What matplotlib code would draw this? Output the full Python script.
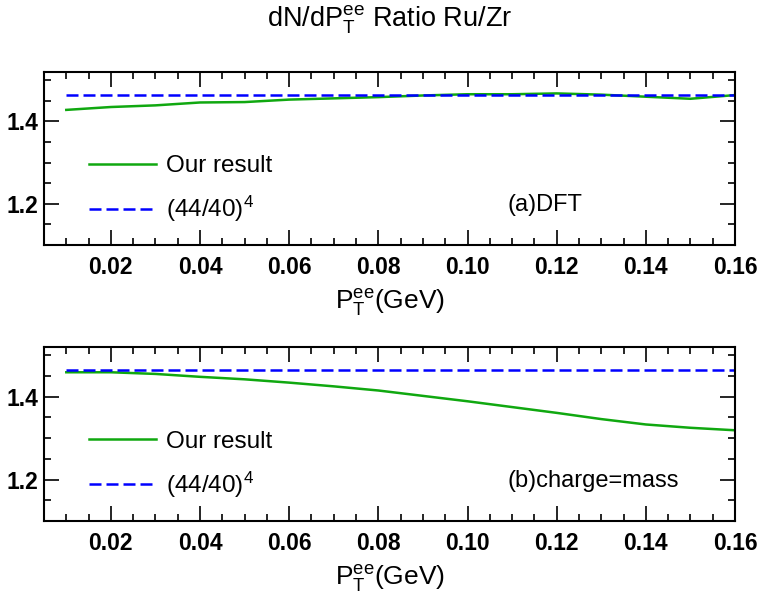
import matplotlib
matplotlib.use('Agg')
import matplotlib.pyplot as plt
from matplotlib.ticker import MultipleLocator
import numpy as np

plt.rcParams['font.family'] = ['Liberation Sans', 'DejaVu Sans']
plt.rcParams['mathtext.fontset'] = 'custom'
plt.rcParams['mathtext.rm'] = 'Liberation Sans'
plt.rcParams['mathtext.it'] = 'Liberation Sans:italic'
plt.rcParams['mathtext.bf'] = 'Liberation Sans:bold'

# pT of the pair (GeV)
pt = [0.01, 0.02, 0.03, 0.04, 0.05, 0.06, 0.07, 0.08,
      0.09, 0.10, 0.11, 0.12, 0.13, 0.14, 0.15, 0.16]
# ratio Ru/Zr, (a) DFT
ratio_dft = [1.428, 1.435, 1.439, 1.446, 1.447, 1.453, 1.456, 1.459,
             1.463, 1.466, 1.466, 1.468, 1.465, 1.460, 1.455, 1.464]
# ratio Ru/Zr, (b) charge = mass
ratio_cm = [1.459, 1.459, 1.455, 1.448, 1.442, 1.434, 1.425, 1.415,
            1.402, 1.389, 1.375, 1.361, 1.346, 1.333, 1.325, 1.319]
z_scaling = (44 / 40) ** 4
panel_labels = ['(a)DFT', '(b)charge=mass']

W, H = 759, 594
fig = plt.figure(figsize=(W / 100, H / 100), dpi=100)
ax1 = fig.add_axes([44 / W, 1 - 245 / H, 691 / W, 173 / H])
ax2 = fig.add_axes([44 / W, 1 - 521 / H, 691 / W, 174 / H])

for ax, ratio, lab in zip([ax1, ax2], [ratio_dft, ratio_cm], panel_labels):
    ax.plot(pt, ratio, color='#10a810', lw=1.8, label='Our result')
    ax.plot(pt, [z_scaling] * len(pt), color='#0000ff', lw=1.8,
            dashes=(4.8, 2.0), label=r'(44/40)$^4$')
    ax.set_xlim(0.005, 0.16)
    ax.set_ylim(1.1, 1.52)
    ax.xaxis.set_major_locator(MultipleLocator(0.02))
    ax.xaxis.set_minor_locator(MultipleLocator(0.005))
    ax.yaxis.set_major_locator(MultipleLocator(0.2))
    ax.yaxis.set_minor_locator(MultipleLocator(0.05))
    ax.tick_params(which='both', direction='in', top=True, right=True, width=1.2)
    ax.tick_params(which='major', length=10.5)
    ax.tick_params(which='minor', length=5)
    ax.tick_params(axis='x', pad=8)
    ax.tick_params(axis='y', pad=4)
    for t in ax.get_xticklabels() + ax.get_yticklabels():
        t.set_fontweight('bold')
        t.set_fontsize(16.5)
    for s in ax.spines.values():
        s.set_linewidth(1.5)
    ax.set_xlabel(r'P$_\mathrm{T}^\mathrm{ee}$(GeV)', fontsize=19, labelpad=6)
    ax.text(0.671, 0.231, lab, transform=ax.transAxes, fontsize=17,
            ha='left', va='center')
    ax.legend(loc='upper left', bbox_to_anchor=(0.051, 0.576), frameon=False,
              fontsize=17.5, handlelength=2.75, handletextpad=0.42,
              labelspacing=0.7, borderaxespad=0.0)

fig.text((44 + 691 / 2) / W, 1 - 27 / H, r'dN/dP$_\mathrm{T}^\mathrm{ee}$ Ratio Ru/Zr',
         fontsize=19.5, ha='center', va='baseline')

fig.savefig('out.png', dpi=100)
